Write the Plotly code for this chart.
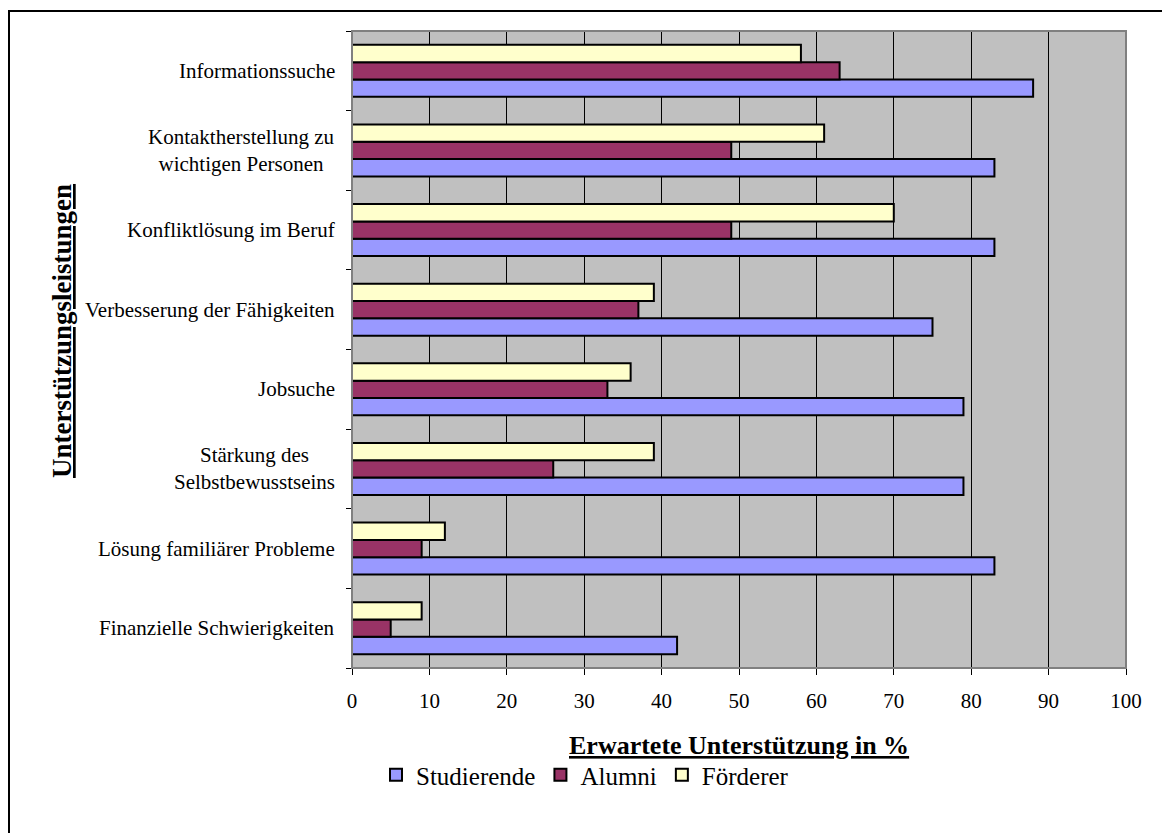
import plotly.graph_objects as go

categories = [
    "Informationssuche",
    "Kontaktherstellung zu<br>wichtigen Personen",
    "Konfliktlösung im Beruf",
    "Verbesserung der Fähigkeiten",
    "Jobsuche",
    "Stärkung des<br>Selbstbewusstseins",
    "Lösung familiärer Probleme",
    "Finanzielle Schwierigkeiten",
]
studierende = [88, 83, 83, 75, 79, 79, 83, 42]
alumni = [63, 49, 49, 37, 33, 26, 9, 5]
foerderer = [58, 61, 70, 39, 36, 39, 12, 9]
x_ticks = list(range(0, 101, 10))

W, H = 1162, 833
L, R, T, B = 352, 1126, 31, 668  # plot area in pixels

FONT = "Liberation Serif, Times New Roman, serif"

fig = go.Figure()
series = [
    ("Studierende", studierende, "#9999FF"),
    ("Alumni", alumni, "#993366"),
    ("Förderer", foerderer, "#FFFFCC"),
]
for name, vals, col in series:
    fig.add_trace(go.Bar(
        y=categories, x=vals, name=name, orientation="h",
        marker=dict(color=col, line=dict(color="black", width=2)),
    ))

def px_x(p):
    return (p - L) / (R - L)

def px_y(p):
    return (B - p) / (B - T)

annotations = []
for c in categories:
    annotations.append(dict(
        x=px_x(337), xref="paper", y=c, yref="y", text=c,
        xanchor="right", yanchor="middle", align="center", showarrow=False,
        font=dict(family=FONT, size=21, color="black"),
    ))
annotations.append(dict(
    x=px_x(739), xref="paper", y=px_y(745), yref="paper",
    text="<b><u>Erwartete Unterstützung in %</u></b>", showarrow=False,
    xanchor="center", yanchor="middle",
    font=dict(family=FONT, size=26, color="black"),
))
annotations.append(dict(
    x=px_x(62), xref="paper", y=px_y(331), yref="paper",
    text="<b><u>Unterstützungsleistungen</u></b>", showarrow=False, textangle=-90,
    xanchor="center", yanchor="middle",
    font=dict(family=FONT, size=27, color="black"),
))

fig.update_layout(
    width=W, height=H,
    margin=dict(l=L, r=W - R, t=T, b=H - B, autoexpand=False),
    paper_bgcolor="white", plot_bgcolor="#C0C0C0",
    barmode="group", bargap=0.347, bargroupgap=0,
    font=dict(family=FONT, size=21, color="black"),
    legend=dict(
        orientation="h", x=px_x(585), xanchor="center", y=px_y(775), yanchor="middle",
        font=dict(family=FONT, size=25, color="black"),
        traceorder="normal", itemwidth=30,
    ),
    annotations=annotations,
    shapes=[
        dict(type="rect", xref="paper", yref="paper",
             x0=px_x(9), x1=px_x(1175), y0=px_y(850), y1=px_y(11),
             line=dict(color="black", width=2), fillcolor="rgba(0,0,0,0)", layer="below"),
        dict(type="rect", xref="paper", yref="paper",
             x0=0, x1=1, y0=0, y1=1,
             line=dict(color="#808080", width=2), fillcolor="rgba(0,0,0,0)", layer="above"),
    ],
)
fig.update_xaxes(
    range=[0, 100], tickvals=x_ticks, ticktext=[str(v) for v in x_ticks],
    showgrid=True, gridcolor="black", gridwidth=1,
    ticks="outside", ticklen=6, tickcolor="black", ticklabelstandoff=8,
    tickfont=dict(family=FONT, size=21), zeroline=False,
    showline=False,
)
fig.update_yaxes(
    categoryorder="array", categoryarray=categories[::-1],
    showticklabels=False, ticks="outside", ticklen=5, tickcolor="black",
    tickson="boundaries", showgrid=False, showline=False, zeroline=False,
)

fig.write_html("out.html")
